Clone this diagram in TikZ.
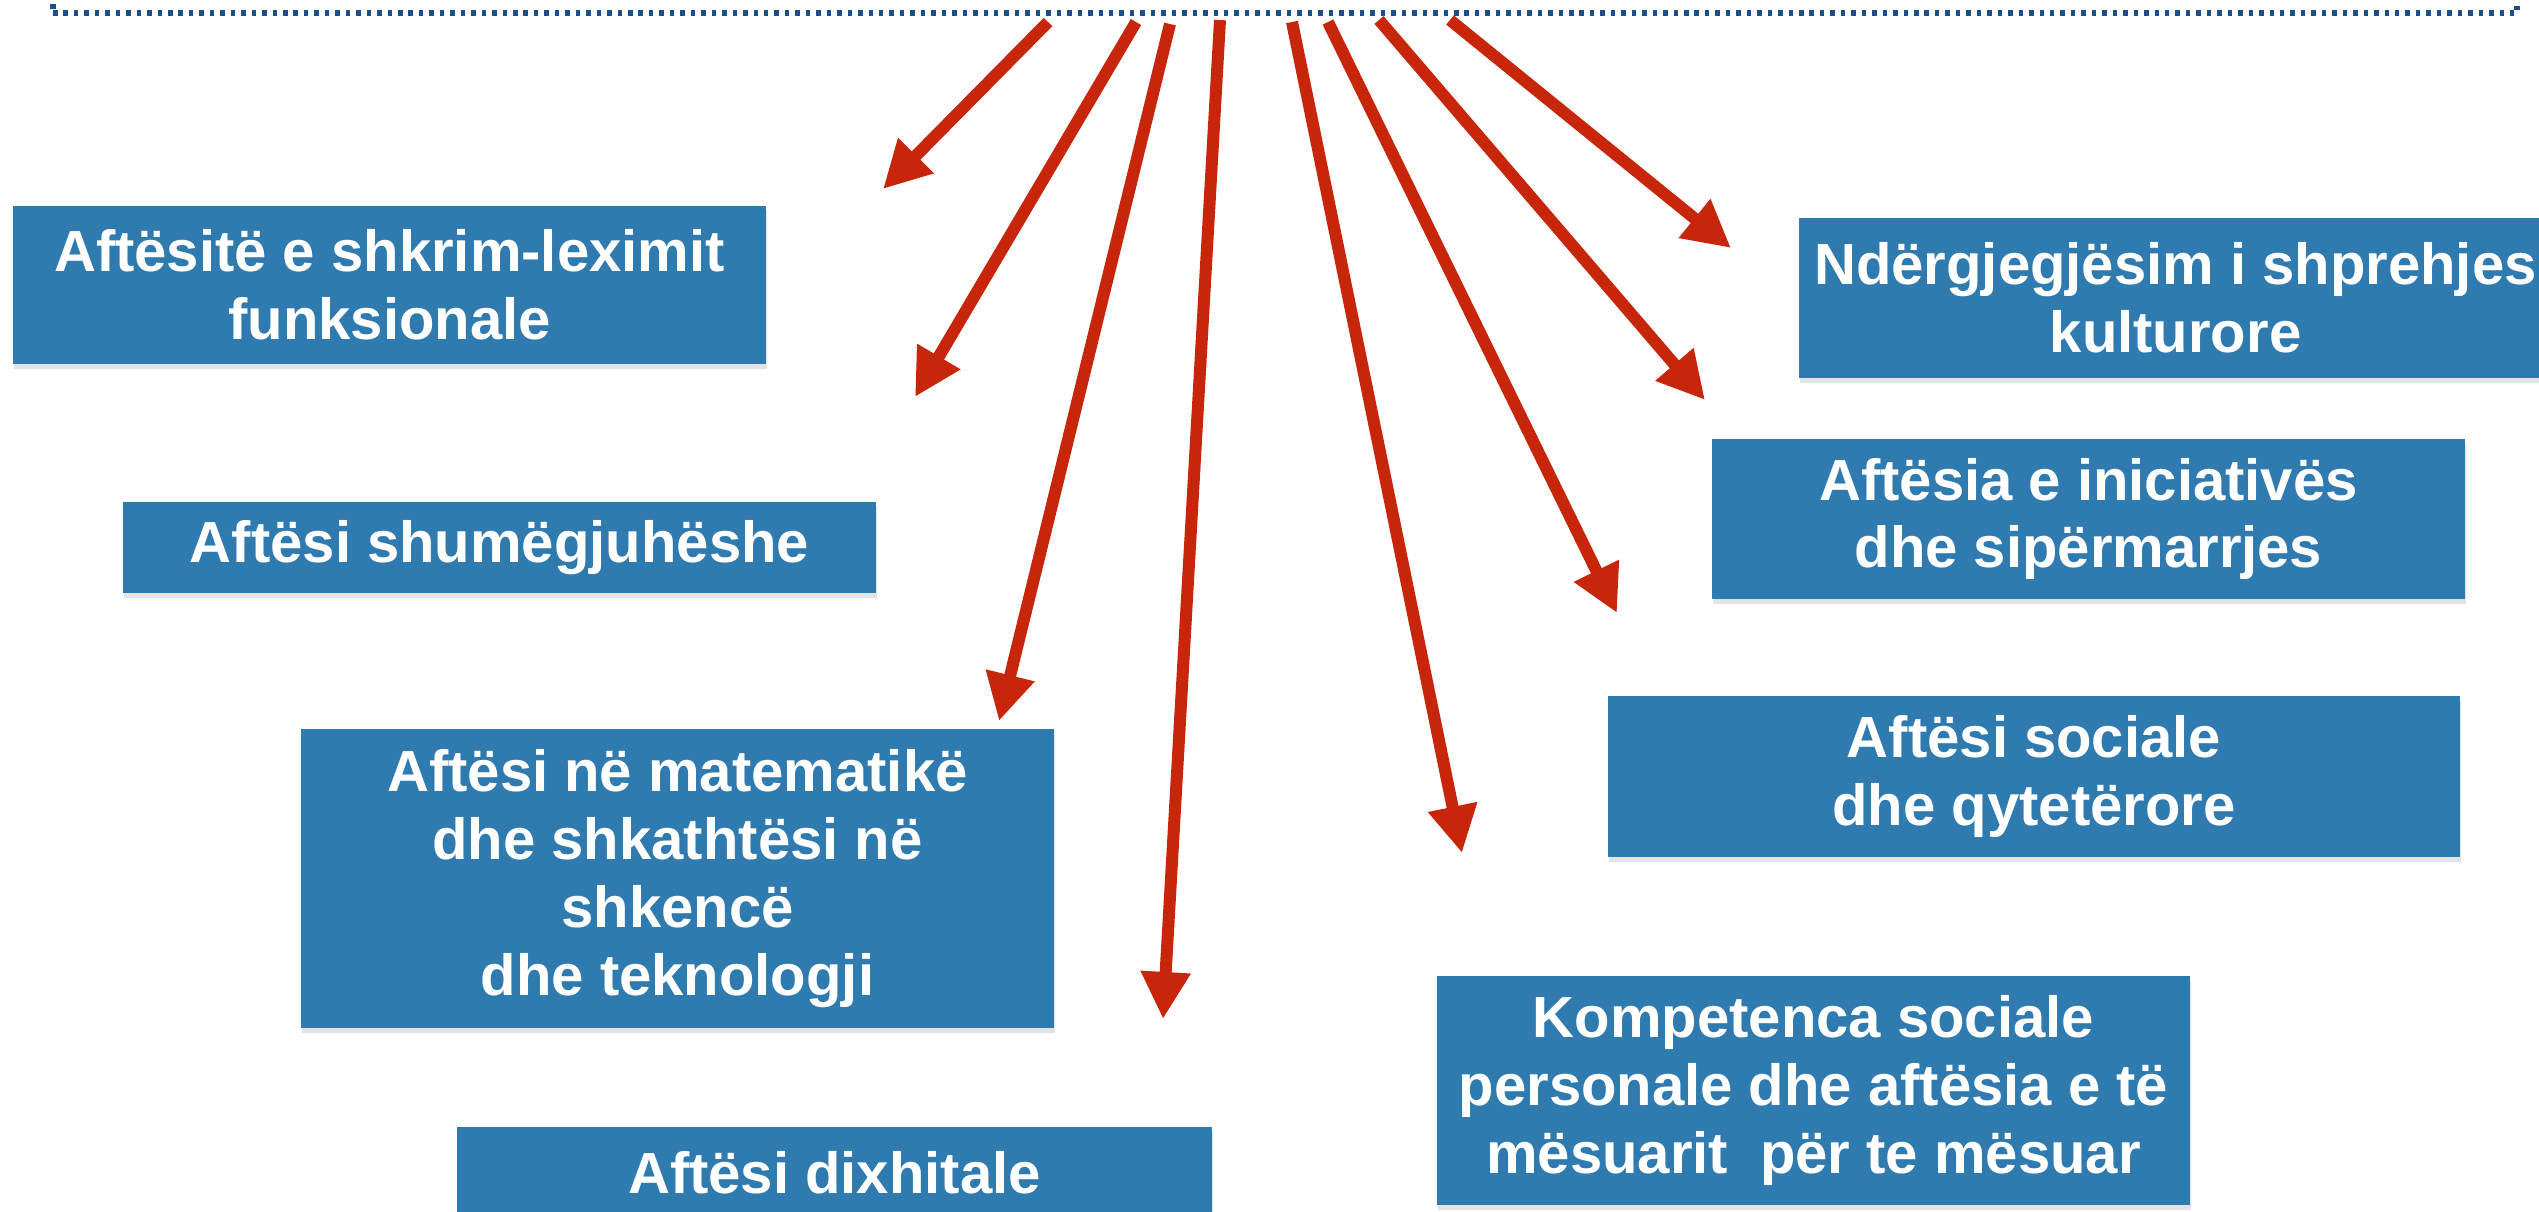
\documentclass[tikz,border=0pt]{standalone}
\usepackage{fontspec}
\setmainfont{Liberation Sans}
\usetikzlibrary{arrows.meta,shadows}
\definecolor{boxblue}{RGB}{47,123,176}
\definecolor{arrred}{RGB}{200,38,10}
\definecolor{dotblue}{RGB}{26,78,140}
\begin{document}
\begin{tikzpicture}[x=0.01cm,y=-0.01cm,
  skill/.style={fill=boxblue, text=white, font=\bfseries\fontsize{16.5}{19.3}\selectfont,
    align=center, inner sep=0pt, minimum width=7.53cm,
    drop shadow={opacity=0.22,shadow xshift=0.01cm,shadow yshift=-0.05cm}},
  link/.style={draw=arrred, line width=0.12cm, -{Triangle[length=0.47cm,width=0.47cm]}},
  topframe/.style={draw=dotblue, line width=0.06cm, dash pattern=on 0.045cm off 0.0595cm}]
\useasboundingbox (0,0) rectangle (2539,1211);
\clip (0,0) rectangle (2539,1211);
% top frame (only its lower edge is visible)
\node[topframe, anchor=south west, minimum width=24.63cm, minimum height=3cm, inner sep=0pt] (top) at (50,16) {};
% boxes
\node[skill, minimum height=1.58cm] (b1) at (389.5,285) {Aftësitë e shkrim-leximit\\funksionale};
\node[skill, minimum height=0.91cm] (b2) at (499.5,547.5) {Aftësi shumëgjuhëshe};
\node[skill, minimum height=2.99cm] (b3) at (677.5,878.5) {Aftësi në matematikë\\dhe shkathtësi në\\shkencë\\dhe teknologji};
\node[skill, minimum height=0.91cm, minimum width=7.55cm] (b4) at (834.5,1172.5) {Aftësi dixhitale};
\node[skill, minimum height=2.29cm] (b5) at (1813.5,1090.5) {Kompetenca sociale\\personale dhe aftësia e të\\mësuarit\ \ për te mësuar};
\node[skill, minimum height=1.61cm, minimum width=8.52cm] (b6) at (2034,776.5) {Aftësi sociale\\dhe qytetërore};
\node[skill, minimum height=1.60cm] (b7) at (2088.5,519) {Aftësia e iniciativës\\dhe sipërmarrjes};
\node[skill, minimum height=1.60cm] (b8) at (2175.5,298) {Ndërgjegjësim i shprehjes\\kulturore};
% arrow start and end points
\coordinate (s1) at (1048,22); \coordinate (t1) at (883,189);
\coordinate (s2) at (1136,22); \coordinate (t2) at (915,397);
\coordinate (s3) at (1170,24); \coordinate (t3) at (999,721);
\coordinate (s4) at (1220,20); \coordinate (t4) at (1163,1019);
\coordinate (s5) at (1292,22); \coordinate (t5) at (1462,853);
\coordinate (s6) at (1328,22); \coordinate (t6) at (1617,613);
\coordinate (s7) at (1379,20); \coordinate (t7) at (1705,400);
\coordinate (s8) at (1450,20); \coordinate (t8) at (1731,248);
\foreach \i in {1,...,8} \draw[link] (s\i) -- (t\i);
\end{tikzpicture}
\end{document}
